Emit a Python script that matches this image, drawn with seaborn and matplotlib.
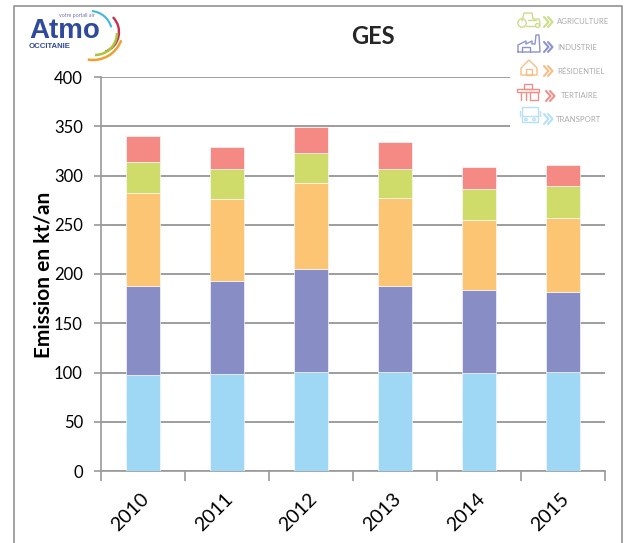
# plot.py
import matplotlib
matplotlib.use("Agg")
import numpy as np
import pandas as pd
import matplotlib.pyplot as plt
import matplotlib.transforms as mtrans
import seaborn as sns
from matplotlib.patches import Arc, Circle, Polygon, Rectangle

W, H = 626, 543

annees = ["2010", "2011", "2012", "2013", "2014", "2015"]
transport = [97, 98, 101, 101, 100, 101]
industrie = [91, 95, 104, 87, 84, 81]
residentiel = [94, 83, 87, 89, 71, 75]
agriculture = [32, 31, 31, 30, 31, 32]
tertiaire = [26, 22, 26, 27, 23, 22]

secteurs = ["Transport", "Industrie", "Résidentiel", "Agriculture", "Tertiaire"]
couleurs = ["#9ED8F5", "#888DC6", "#FBC573", "#CFDC6A", "#F48A83"]
legende = [
    ("AGRICULTURE", "#CBDD8A"),
    ("INDUSTRIE", "#8E93CC"),
    ("RÉSIDENTIEL", "#F7BE86"),
    ("TERTIAIRE", "#EE8F8A"),
    ("TRANSPORT", "#B5E0F7"),
]

df = pd.DataFrame({
    "annee": annees,
    "Transport": transport,
    "Industrie": industrie,
    "Résidentiel": residentiel,
    "Agriculture": agriculture,
    "Tertiaire": tertiaire,
})

sns.set_style("white")
plt.rcParams["font.family"] = ["Lato", "DejaVu Sans"]

fig = plt.figure(figsize=(W / 100, H / 100), dpi=100, facecolor="white")
ax = fig.add_axes([101 / W, 1 - 471 / H, 504 / W, 394 / H])

# Empilement des secteurs
bas = np.zeros(len(annees))
for secteur, couleur in zip(secteurs, couleurs):
    sns.barplot(data=df, x="annee", y=secteur, bottom=bas, color=couleur, width=0.41,
                saturation=1, edgecolor="#F4F8FA", linewidth=0.5, ax=ax, zorder=3)
    bas = bas + df[secteur].to_numpy()

ax.set_ylim(0, 400)
ax.set_xlim(-0.5, 5.5)
ax.set_yticks(range(0, 401, 50))
ax.yaxis.grid(True, color="#8C8C8C", linewidth=1.2, zorder=0)
ax.set_axisbelow(True)
ax.set_xlabel("")
ax.set_ylabel("Emission en kt/an", fontsize=15, fontweight="bold", color="black")
ax.yaxis.set_label_coords(-47 / 504, 196 / 394)

for cote in ["top", "right"]:
    ax.spines[cote].set_visible(False)
for cote in ["left", "bottom"]:
    ax.spines[cote].set_color("#9A9A9A")
    ax.spines[cote].set_linewidth(1.2)

# Graduations de l'axe x entre les catégories, comme sur l'original
ax.set_xticks(np.arange(-0.5, 6, 1), minor=True)
ax.tick_params(axis="x", which="minor", length=7, width=1.2, color="#9A9A9A", bottom=True)
ax.tick_params(axis="x", which="major", length=0, labelsize=14, pad=0, colors="black")
ax.tick_params(axis="y", length=5, width=1.2, color="#9A9A9A", left=True, labelsize=12, pad=8, colors="black")
decalage = mtrans.ScaledTranslation(-3 / 100, -19 / 100, fig.dpi_scale_trans)
for lab in ax.get_xticklabels():
    lab.set_rotation(45)
    lab.set_ha("right")
    lab.set_va("top")
    lab.set_rotation_mode("anchor")
    lab.set_transform(lab.get_transform() + decalage)

fig.text(373 / W, 1 - 37 / H, "GES", fontsize=17, fontweight="bold", ha="center", va="center")

# Calque pixels pour le cadre, le logo et la légende illustrée
deco = fig.add_axes([0, 0, 1, 1], facecolor="none", zorder=5)
deco.set_xlim(0, W)
deco.set_ylim(H, 0)
deco.axis("off")
deco.set_aspect("equal")

# La vignette de légende masque le bout des grilles 400 et 350
deco.add_patch(Rectangle((510, 7), 111, 123, fc="white", ec="none"))
deco.plot([14, 14, 622, 622], [H, 6, 6, H], color="#9A9A9A", lw=1.3, clip_on=False)

# Logo
deco.text(29, 30.5, "Atmo", fontsize=20, fontweight="bold", color="#2F4A9C", ha="left", va="center",
          family="Liberation Sans")
deco.text(29, 47, "OCCITANIE", fontsize=5.6, fontweight="bold", color="#2F4A9C", ha="left", va="center",
          family="Liberation Sans")
deco.text(59, 16, "votre portail air", fontsize=3.8, color="#6A74AE", ha="left", va="center")
for cx, cy, r, t1, t2, c, lw in [(90, 33, 22, -85, -15, "#3FB8DC", 1.5), (98, 32, 21, -45, 70, "#C6304C", 1.7),
                                 (95, 33, 22, 0, 90, "#A8C63A", 1.8), (93, 30, 30, 20, 100, "#F0A030", 1.8)]:
    deco.add_patch(Arc((cx, cy), r * 2, r * 2, theta1=t1, theta2=t2, color=c, lw=lw))


def chevrons(x, y, couleur):
    for dx in (0, 4):
        deco.plot([x + dx, x + dx + 4.5, x + dx], [y - 5, y, y + 5], color=couleur, lw=1.5)


# Légende : pictogrammes simplifiés, trait fin
c = legende[0][1]
deco.plot([522, 524, 532, 533, 539, 540, 540], [21, 13, 13, 19, 19, 22, 26], color=c, lw=1)
deco.plot([528, 536], [20, 20], color=c, lw=1)
deco.plot([526, 535], [26, 26], color=c, lw=1)
deco.add_patch(Circle((522, 23), 4.2, fill=False, ec=c, lw=1))
deco.add_patch(Circle((537.5, 25.5), 2, fill=False, ec=c, lw=1))
c = legende[1][1]
deco.plot([518, 518, 526, 526, 532, 532, 535, 536, 539, 540, 540, 518],
          [52, 45, 41, 44, 41, 44, 44, 35, 35, 52, 52, 52], color=c, lw=1)
deco.plot([522, 522, 530, 530], [52, 47, 47, 52], color=c, lw=1)
c = legende[2][1]
deco.add_patch(Polygon([[521, 68], [529, 60], [537, 68], [537, 75], [521, 75]], fill=False, ec=c, lw=1))
deco.add_patch(Rectangle((526, 69), 6, 6, fill=False, ec=c, lw=1))
c = legende[3][1]
deco.add_patch(Rectangle((524, 84), 8, 5, fill=False, ec=c, lw=1))
deco.add_patch(Rectangle((517, 89), 22, 3, fill=False, ec=c, lw=1))
deco.add_patch(Rectangle((530, 92), 8, 8, fill=False, ec=c, lw=1))
deco.plot([521, 521], [92, 100], color=c, lw=1)
deco.plot([526, 526], [92, 100], color=c, lw=1)
c = legende[4][1]
deco.add_patch(Rectangle((522, 107), 16, 15, fill=False, ec=c, lw=1))
deco.plot([522, 538], [116, 116], color=c, lw=1)
deco.plot([520, 520], [111, 116], color=c, lw=1)
deco.plot([540, 540], [111, 116], color=c, lw=1)
deco.add_patch(Circle((526, 119.5), 1.2, fill=False, ec=c, lw=1))
deco.add_patch(Circle((534, 119.5), 1.2, fill=False, ec=c, lw=1))

chevron_x = [544, 544, 544, 546, 544]
texte_x = [557, 557, 557, 561, 556]
ligne_y = [22, 47, 71, 96, 119]
for (nom, couleur), cx, tx, ly in zip(legende, chevron_x, texte_x, ligne_y):
    chevrons(cx, ly, couleur)
    deco.text(tx, ly, nom, fontsize=5.6, color="#ABABAB", ha="left", va="center")

fig.savefig("out.png", dpi=100, facecolor="white")
